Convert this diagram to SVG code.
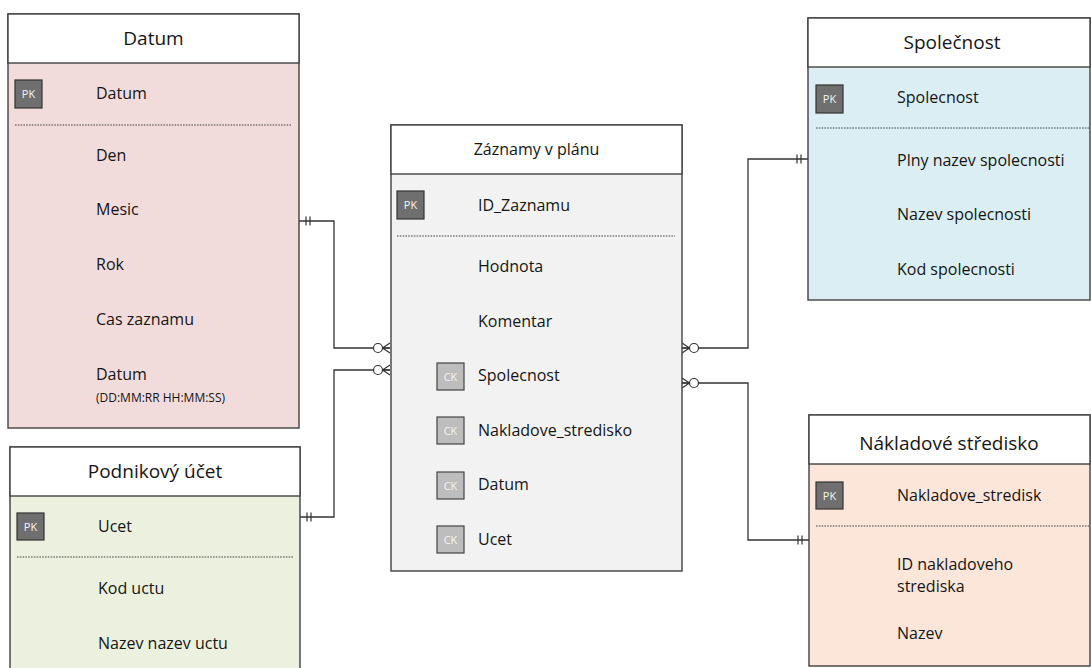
<svg xmlns="http://www.w3.org/2000/svg" width="1091" height="668" viewBox="0 0 1091 668">
  <style>
    text { font-family: "Open Sans", "Liberation Sans", sans-serif; fill: #151515; }
    .title { font-size: 19px; text-anchor: middle; }
    .title-sm { font-size: 16px; text-anchor: middle; }
    .attr { font-size: 16px; }
    .note { font-size: 12px; }
    .box { stroke: #404040; stroke-width: 1.4; }
    .head { fill: #ffffff; stroke: #404040; stroke-width: 1.4; }
    .sep { stroke: #333; stroke-width: 0.9; stroke-dasharray: 1.6 1.2; }
    .pk { fill: #6f6f6f; stroke: #333; stroke-width: 1.2; }
    .ck { fill: #bdbdbd; stroke: #444; stroke-width: 1.2; }
    .badge { font-size: 11px; fill: #f4f4f4; text-anchor: middle; }
    .link { fill: none; stroke: #333; stroke-width: 1.3; }
  </style>
  <defs>
    <!-- zero-or-many end: circle followed by crow's foot -->
    <marker id="zeroMany" markerUnits="userSpaceOnUse" markerWidth="22" markerHeight="16" viewBox="-20 -8 22 16" refX="0" refY="0" orient="auto" overflow="visible">
      <path d="M-7.5 0 L0 -5 M-7.5 0 L0 0 M-7.5 0 L0 5" fill="none" stroke="#333" stroke-width="1.2"/>
      <circle cx="-12" cy="0" r="4.5" fill="#fff" stroke="#333" stroke-width="1.2"/>
    </marker>
    <!-- exactly-one end: double bar -->
    <marker id="oneOne" markerUnits="userSpaceOnUse" markerWidth="16" markerHeight="12" viewBox="-14 -6 16 12" refX="0" refY="0" orient="auto-start-reverse" overflow="visible">
      <path d="M-7 -4.5 V4.5 M-11 -4.5 V4.5" fill="none" stroke="#333" stroke-width="1.2"/>
    </marker>
  </defs>

  <!-- relationships -->
  <g id="connectors">
    <path class="link" d="M299 221 H334 V348 H390" marker-start="url(#oneOne)" marker-end="url(#zeroMany)"/>
    <path class="link" d="M300 517 H334 V370 H390" marker-start="url(#oneOne)" marker-end="url(#zeroMany)"/>
    <path class="link" d="M808 159 H748 V348 H682" marker-start="url(#oneOne)" marker-end="url(#zeroMany)"/>
    <path class="link" d="M809 540 H748 V383 H682" marker-start="url(#oneOne)" marker-end="url(#zeroMany)"/>
  </g>

  <!-- Datum -->
  <g id="datum">
    <rect class="box" x="8" y="14" width="291" height="414" fill="#F2DCDB"/>
    <rect class="head" x="8" y="14" width="291" height="49"/>
    <text class="title" x="153.5" y="45">Datum</text>
    <rect class="pk" x="15" y="80" width="27" height="28"/>
    <text class="badge" x="28.5" y="98">PK</text>
    <text class="attr" x="96" y="99">Datum</text>
    <line class="sep" x1="15" y1="125" x2="292" y2="125"/>
    <text class="attr" x="96" y="161">Den</text>
    <text class="attr" x="96" y="215">Mesic</text>
    <text class="attr" x="96" y="270">Rok</text>
    <text class="attr" x="96" y="325">Cas zaznamu</text>
    <text class="attr" x="96" y="380">Datum</text>
    <text class="note" x="96" y="402">(DD:MM:RR HH:MM:SS)</text>
  </g>

  <!-- Podnikový účet -->
  <g id="podnikovy-ucet">
    <rect class="box" x="10" y="447" width="290" height="235" fill="#EBF1DE"/>
    <rect class="head" x="10" y="447" width="290" height="49"/>
    <text class="title" x="155" y="478">Podnikový účet</text>
    <rect class="pk" x="17" y="513" width="27" height="27"/>
    <text class="badge" x="30.5" y="530.5">PK</text>
    <text class="attr" x="98" y="532">Ucet</text>
    <line class="sep" x1="17" y1="557" x2="294" y2="557"/>
    <text class="attr" x="98" y="594">Kod uctu</text>
    <text class="attr" x="98" y="649">Nazev nazev uctu</text>
  </g>

  <!-- Záznamy v plánu -->
  <g id="zaznamy-v-planu">
    <rect class="box" x="391" y="125" width="291" height="446" fill="#F2F2F2"/>
    <rect class="head" x="391" y="125" width="291" height="49"/>
    <text class="title-sm" x="536.5" y="155">Záznamy v plánu</text>
    <rect class="pk" x="397" y="191" width="27" height="28"/>
    <text class="badge" x="410.5" y="209">PK</text>
    <text class="attr" x="478" y="211">ID_Zaznamu</text>
    <line class="sep" x1="397" y1="236" x2="675" y2="236"/>
    <text class="attr" x="478" y="272">Hodnota</text>
    <text class="attr" x="478" y="327">Komentar</text>
    <rect class="ck" x="437" y="363" width="27" height="27"/>
    <text class="badge" x="450.5" y="380.5">CK</text>
    <text class="attr" x="478" y="381">Spolecnost</text>
    <rect class="ck" x="437" y="417" width="27" height="27"/>
    <text class="badge" x="450.5" y="434.5">CK</text>
    <text class="attr" x="478" y="436">Nakladove_stredisko</text>
    <rect class="ck" x="437" y="472" width="27" height="27"/>
    <text class="badge" x="450.5" y="489.5">CK</text>
    <text class="attr" x="478" y="490">Datum</text>
    <rect class="ck" x="437" y="526" width="27" height="27"/>
    <text class="badge" x="450.5" y="543.5">CK</text>
    <text class="attr" x="478" y="545">Ucet</text>
  </g>

  <!-- Společnost -->
  <g id="spolecnost">
    <rect class="box" x="808" y="18" width="282" height="282" fill="#DBEEF3"/>
    <rect class="head" x="808" y="18" width="282" height="49"/>
    <text class="title" x="952" y="49">Společnost</text>
    <rect class="pk" x="816" y="85" width="27" height="28"/>
    <text class="badge" x="829.5" y="103">PK</text>
    <text class="attr" x="897" y="103">Spolecnost</text>
    <line class="sep" x1="816" y1="128" x2="1090" y2="128"/>
    <text class="attr" x="897" y="166">Plny nazev spolecnosti</text>
    <text class="attr" x="897" y="220">Nazev spolecnosti</text>
    <text class="attr" x="897" y="275">Kod spolecnosti</text>
  </g>

  <!-- Nákladové středisko -->
  <g id="nakladove-stredisko">
    <rect class="box" x="809" y="415" width="281" height="251" fill="#FCE6D9"/>
    <rect class="head" x="809" y="415" width="281" height="49"/>
    <text class="title" x="949" y="450">Nákladové středisko</text>
    <rect class="pk" x="816" y="482" width="27" height="27"/>
    <text class="badge" x="829.5" y="499.5">PK</text>
    <text class="attr" x="897" y="501">Nakladove_stredisk</text>
    <line class="sep" x1="816" y1="526" x2="1090" y2="526"/>
    <text class="attr" x="897" y="570">ID nakladoveho</text>
    <text class="attr" x="897" y="592">strediska</text>
    <text class="attr" x="897" y="639">Nazev</text>
  </g>
</svg>
